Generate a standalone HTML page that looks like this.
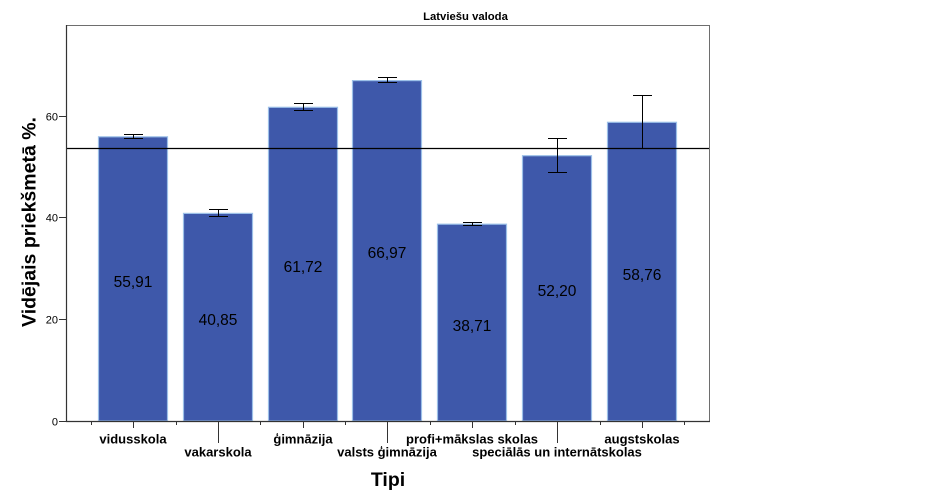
<!DOCTYPE html>
<html>
<head>
<meta charset="utf-8">
<style>
html,body{margin:0;padding:0;background:#fff;}
svg{display:block;}
text{font-family:"Liberation Sans",Arial,sans-serif;}
</style>
</head>
<body>
<svg width="933" height="502" viewBox="0 0 933 502" xmlns="http://www.w3.org/2000/svg">
<rect x="0" y="0" width="933" height="502" fill="#fff"/>
<!-- title -->
<text x="465.5" y="20" font-size="11.3" font-weight="bold" text-anchor="middle" fill="#000">Latviešu valoda</text>
<!-- frame -->
<line x1="66" y1="25.5" x2="709.5" y2="25.5" stroke="#6e6e6e" stroke-width="1"/>
<line x1="709.5" y1="25" x2="709.5" y2="421.5" stroke="#6e6e6e" stroke-width="1"/>
<!-- bars -->
<g fill="#3E58AA" stroke="#9CC0E8" stroke-width="1.2">
<rect x="98.5" y="136.8" width="69" height="284.2"/>
<rect x="183.5" y="213.4" width="69" height="207.6"/>
<rect x="268.5" y="107.3" width="69" height="313.7"/>
<rect x="352.5" y="80.6" width="69" height="340.4"/>
<rect x="437.5" y="224.2" width="69" height="196.8"/>
<rect x="522.5" y="155.7" width="69" height="265.3"/>
<rect x="607.5" y="122.3" width="69" height="298.7"/>
</g>
<!-- error bars -->
<g stroke="#000" stroke-width="1" fill="none">
<path d="M133.5 134.5V139M124 134.5H143M124 138.5H143"/>
<path d="M218.5 209.5V216.5M209 209.5H228M209 216.5H228"/>
<path d="M303.5 103.5V110.5M294 103.5H313M294 110.5H313"/>
<path d="M387.5 77.5V83M378 77.5H397M378 82.5H397"/>
<path d="M472.5 222.5V225.5M463 222.5H482M463 225.5H482"/>
<path d="M557.5 138.5V172.5M548 138.5H567M548 172.5H567"/>
<path d="M642.5 95.5V148.5M633 95.5H652M633 148.5H652"/>
</g>
<!-- reference line -->
<line x1="66" y1="148.5" x2="709" y2="148.5" stroke="#000" stroke-width="1.2"/>
<!-- value labels -->
<g font-size="15.5" text-anchor="middle" fill="#000">
<text x="133" y="287">55,91</text>
<text x="218" y="325">40,85</text>
<text x="303" y="272">61,72</text>
<text x="387" y="258">66,97</text>
<text x="472" y="331">38,71</text>
<text x="557" y="296">52,20</text>
<text x="642" y="280">58,76</text>
</g>
<!-- axes -->
<line x1="66.5" y1="25" x2="66.5" y2="422" stroke="#333" stroke-width="1.2"/>
<line x1="66" y1="421.5" x2="710" y2="421.5" stroke="#333" stroke-width="1.2"/>
<!-- y ticks -->
<g stroke="#333" stroke-width="1">
<line x1="59" y1="421.5" x2="66" y2="421.5"/>
<line x1="59" y1="319.5" x2="66" y2="319.5"/>
<line x1="59" y1="217.5" x2="66" y2="217.5"/>
<line x1="59" y1="116.5" x2="66" y2="116.5"/>
</g>
<g font-size="11" text-anchor="end" fill="#000">
<text x="58" y="425.5">0</text>
<text x="58" y="323.5">20</text>
<text x="58" y="221.5">40</text>
<text x="58" y="120.5">60</text>
</g>
<!-- x ticks -->
<g stroke="#333" stroke-width="1">
<line x1="91.5" y1="421" x2="91.5" y2="425"/>
<line x1="176.5" y1="421" x2="176.5" y2="425"/>
<line x1="260.5" y1="421" x2="260.5" y2="425"/>
<line x1="345.5" y1="421" x2="345.5" y2="425"/>
<line x1="430.5" y1="421" x2="430.5" y2="425"/>
<line x1="515.5" y1="421" x2="515.5" y2="425"/>
<line x1="600.5" y1="421" x2="600.5" y2="425"/>
<line x1="684.5" y1="421" x2="684.5" y2="425"/>
<line x1="133.5" y1="421" x2="133.5" y2="428"/>
<line x1="303.5" y1="421" x2="303.5" y2="428"/>
<line x1="472.5" y1="421" x2="472.5" y2="428"/>
<line x1="642.5" y1="421" x2="642.5" y2="428"/>
<line x1="218.5" y1="421" x2="218.5" y2="443"/>
<line x1="387.5" y1="421" x2="387.5" y2="443"/>
<line x1="557.5" y1="421" x2="557.5" y2="443"/>
</g>
<g font-size="13" font-weight="bold" text-anchor="middle" fill="#000">
<text x="133" y="443.5">vidusskola</text>
<text x="303" y="443.5">ģimnāzija</text>
<text x="472" y="443.5">profi+mākslas skolas</text>
<text x="642" y="443.5">augstskolas</text>
<text x="218" y="456.5">vakarskola</text>
<text x="387" y="456.5">valsts ģimnāzija</text>
<text x="557" y="456.5">speciālās un internātskolas</text>
</g>
<!-- axis titles -->
<text x="388" y="486" font-size="19.5" font-weight="bold" text-anchor="middle" fill="#000">Tipi</text>
<text transform="translate(35.5,222) rotate(-90)" font-size="19.5" font-weight="bold" text-anchor="middle" fill="#000">Vidējais priekšmetā %.</text>
</svg>
</body>
</html>
